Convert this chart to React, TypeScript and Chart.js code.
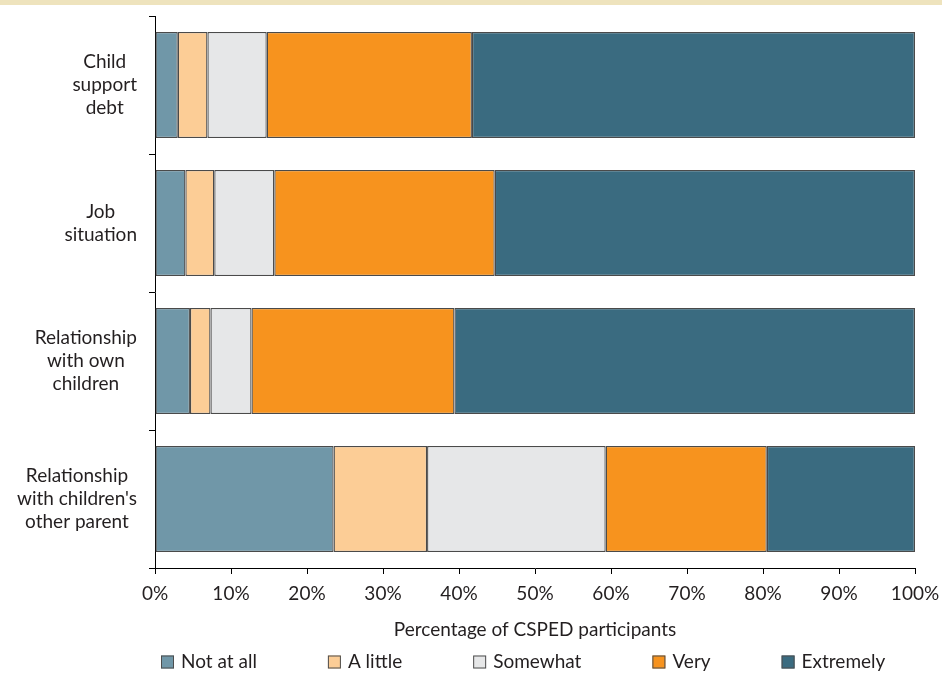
import React, { useEffect, useRef } from "react";
import { Chart, registerables } from "chart.js";

Chart.register(...registerables);

const categories: string[][] = [
  ["Child", "support", "debt"],
  ["Job", "situation"],
  ["Relationship", "with own", "children"],
  ["Relationship", "with children's", "other parent"],
];
const seriesNames = ["Not at all", "A little", "Somewhat", "Very", "Extremely"];
const notAtAll = [3.0, 4.0, 4.6, 23.5];
const aLittle = [3.9, 3.8, 2.7, 12.3];
const somewhat = [7.8, 7.9, 5.4, 23.5];
const very = [27.0, 29.0, 26.7, 21.2];
const extremely = [58.3, 55.3, 60.6, 19.5];
const xTicks = [0, 10, 20, 30, 40, 50, 60, 70, 80, 90, 100];
const axisTitle = "Percentage of CSPED participants";

const colors = ["#7097A8", "#FCCD96", "#E6E7E8", "#F7931E", "#3A6B80"];
const FONT = "Lato, 'Open Sans', sans-serif";
const TEXT = "#231F20";
const FS = 19;

export default function App() {
  const ref = useRef<HTMLCanvasElement | null>(null);
  useEffect(() => {
    document.body.style.margin = "0";
    const canvas = ref.current!;
    const values = [notAtAll, aLittle, somewhat, very, extremely];

    const yLabelPlugin = {
      id: "yLabels",
      afterDraw(chart: any) {
        const ctx = chart.ctx;
        const y = chart.scales.y;
        const right = chart.chartArea.left - 18;
        ctx.save();
        ctx.font = `${FS}px ${FONT}`;
        ctx.fillStyle = TEXT;
        ctx.textAlign = "center";
        ctx.textBaseline = "middle";
        const lh = 23;
        categories.forEach((lines, i) => {
          const w = Math.max(...lines.map((l) => ctx.measureText(l).width));
          const cx = right - w / 2;
          const cy = y.getPixelForValue(i);
          const top = cy - ((lines.length - 1) * lh) / 2;
          lines.forEach((l, j) => ctx.fillText(l, cx, top + j * lh));
        });
        ctx.restore();
      },
    };

    const legendPlugin = {
      id: "customLegend",
      afterDraw(chart: any) {
        const ctx = chart.ctx;
        ctx.save();
        ctx.font = `${FS}px ${FONT}`;
        ctx.textBaseline = "middle";
        ctx.textAlign = "left";
        const box = 13;
        const gapText = 7;
        const gapItem = 71;
        let x = chart.chartArea.left + 6;
        const cy = chart.height - 11;
        chart.data.datasets.forEach((ds: any) => {
          ctx.fillStyle = ds.backgroundColor;
          ctx.fillRect(x, cy - box / 2, box, box);
          ctx.strokeStyle = "#4d4d4d";
          ctx.lineWidth = 1;
          ctx.strokeRect(x + 0.5, cy - box / 2 + 0.5, box - 1, box - 1);
          ctx.fillStyle = TEXT;
          const tx = x + box + gapText;
          ctx.fillText(ds.label, tx, cy);
          x = tx + ctx.measureText(ds.label).width + gapItem;
        });
        ctx.restore();
      },
    };

    const chart = new Chart(canvas, {
      type: "bar",
      data: {
        labels: categories.map((c) => c.join(" ")),
        datasets: seriesNames.map((name, i) => ({
          label: name,
          data: values[i],
          backgroundColor: colors[i],
          borderColor: "#4a4a4a",
          borderWidth: 1.3,
          borderSkipped: false,
          barPercentage: 0.768,
          categoryPercentage: 1,
        })),
      },
      options: {
        indexAxis: "y",
        responsive: false,
        animation: false,
        layout: { padding: { top: 16, left: 0, right: 27, bottom: 28 } },
        plugins: {
          legend: { display: false },
          tooltip: { enabled: false },
        },
        scales: {
          x: {
            stacked: true,
            min: 0,
            max: 100,
            afterBuildTicks(scale: any) {
              scale.ticks = xTicks.map((v) => ({ value: v }));
            },
            afterFit(scale: any) {
              scale.height = 77;
              scale.paddingRight = 0;
              scale.paddingLeft = 0;
            },
            ticks: {
              callback: (v: any) => v + "%",
              color: TEXT,
              font: { family: FONT, size: FS },
              padding: 8,
              maxRotation: 0,
            },
            grid: {
              drawOnChartArea: false,
              drawTicks: true,
              tickLength: 6,
              color: "#000",
            },
            border: { color: "#000", width: 1 },
            title: {
              display: true,
              text: axisTitle,
              color: TEXT,
              font: { family: FONT, size: FS },
              padding: { top: 4, bottom: 4 },
            },
          },
          y: {
            stacked: true,
            afterFit(scale: any) {
              scale.width = 155;
            },
            ticks: { display: false },
            grid: {
              drawOnChartArea: false,
              drawTicks: true,
              tickLength: 6,
              color: "#000",
              offset: true,
            },
            border: { color: "#000", width: 1 },
          },
        },
      },
      plugins: [yLabelPlugin, legendPlugin],
    } as any);
    return () => chart.destroy();
  }, []);

  return (
    <div style={{ position: "relative", width: 942, height: 673, background: "#fff" }}>
      <canvas ref={ref} width={942} height={673} style={{ display: "block" }} />
      <div
        style={{
          position: "absolute",
          top: 0,
          left: 0,
          width: 942,
          height: 5,
          background: "#EEE3BD",
        }}
      />
    </div>
  );
}
